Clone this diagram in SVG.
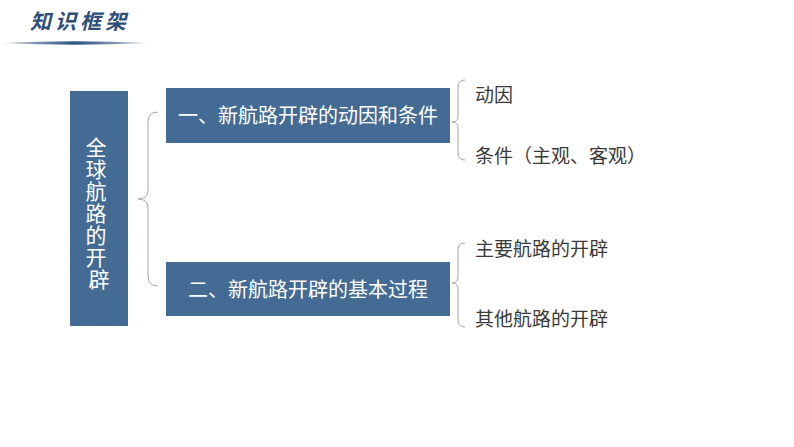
<svg xmlns="http://www.w3.org/2000/svg" width="794" height="447" viewBox="0 0 794 447">
<defs>
<style>
.box{fill:#436b93;}
.wt{fill:#ffffff;font-family:"Liberation Sans","Noto Sans CJK SC",sans-serif;}
.dt{fill:#3a3a3a;font-family:"Liberation Sans","Noto Sans CJK SC",sans-serif;font-size:19px;}
.br{fill:none;stroke:#a6a6a6;stroke-width:1;}
</style>
<linearGradient id="ul" x1="0" x2="1" y1="0" y2="0">
<stop offset="0" stop-color="#2f5383" stop-opacity="0.3"/>
<stop offset="0.5" stop-color="#2f5383"/>
<stop offset="1" stop-color="#2f5383" stop-opacity="0.3"/>
</linearGradient>
</defs>
<rect width="794" height="447" fill="#ffffff"/>
<g id="title">
<text x="30" y="29" font-family="Noto Sans CJK SC,sans-serif" font-weight="bold" font-style="italic" font-size="21" letter-spacing="4" fill="#2f4f7a">知识框架</text>
<path d="M2 43 Q74 39.5 148 43 Q74 46.5 2 43 Z" fill="url(#ul)"/>
</g>
<g id="root">
<rect class="box" x="70" y="91" width="58" height="235"/>
<text class="wt" font-size="21" text-anchor="middle">
<tspan x="99" y="155">全</tspan>
<tspan x="99" y="177">球</tspan>
<tspan x="99" y="199">航</tspan>
<tspan x="99" y="221">路</tspan>
<tspan x="99" y="243">的</tspan>
<tspan x="99" y="265">开</tspan>
<tspan x="99" y="287">辟</tspan>
</text>
</g>
<g id="connectors">
<path class="br" d="M158 112 Q148 112 148 122 L148 190 Q148 199 138 199 Q148 199 148 208 L148 276 Q148 286 158 286"/>
<path class="br" d="M465 80 Q458 80 458 87 L458 116 Q458 122 452 122 Q458 122 458 128 L458 153 Q458 160 465 160"/>
<path class="br" d="M465 243 Q458 243 458 250 L458 277 Q458 283 452 283 Q458 283 458 289 L458 320 Q458 327 465 327"/>
</g>
<g id="n1">
<rect class="box" x="166" y="88" width="284" height="55"/>
<text class="wt" font-size="20" x="308" y="123" text-anchor="middle">一、新航路开辟的动因和条件</text>
</g>
<g id="n2">
<rect class="box" x="166" y="262" width="284" height="54"/>
<text class="wt" font-size="20" x="308" y="297" text-anchor="middle">二、新航路开辟的基本过程</text>
</g>
<g id="n1a"><text class="dt" x="475" y="102">动因</text></g>
<g id="n1b"><text class="dt" x="475" y="163">条件（主观、客观）</text></g>
<g id="n2a"><text class="dt" x="475" y="256">主要航路的开辟</text></g>
<g id="n2b"><text class="dt" x="475" y="326">其他航路的开辟</text></g>
</svg>
